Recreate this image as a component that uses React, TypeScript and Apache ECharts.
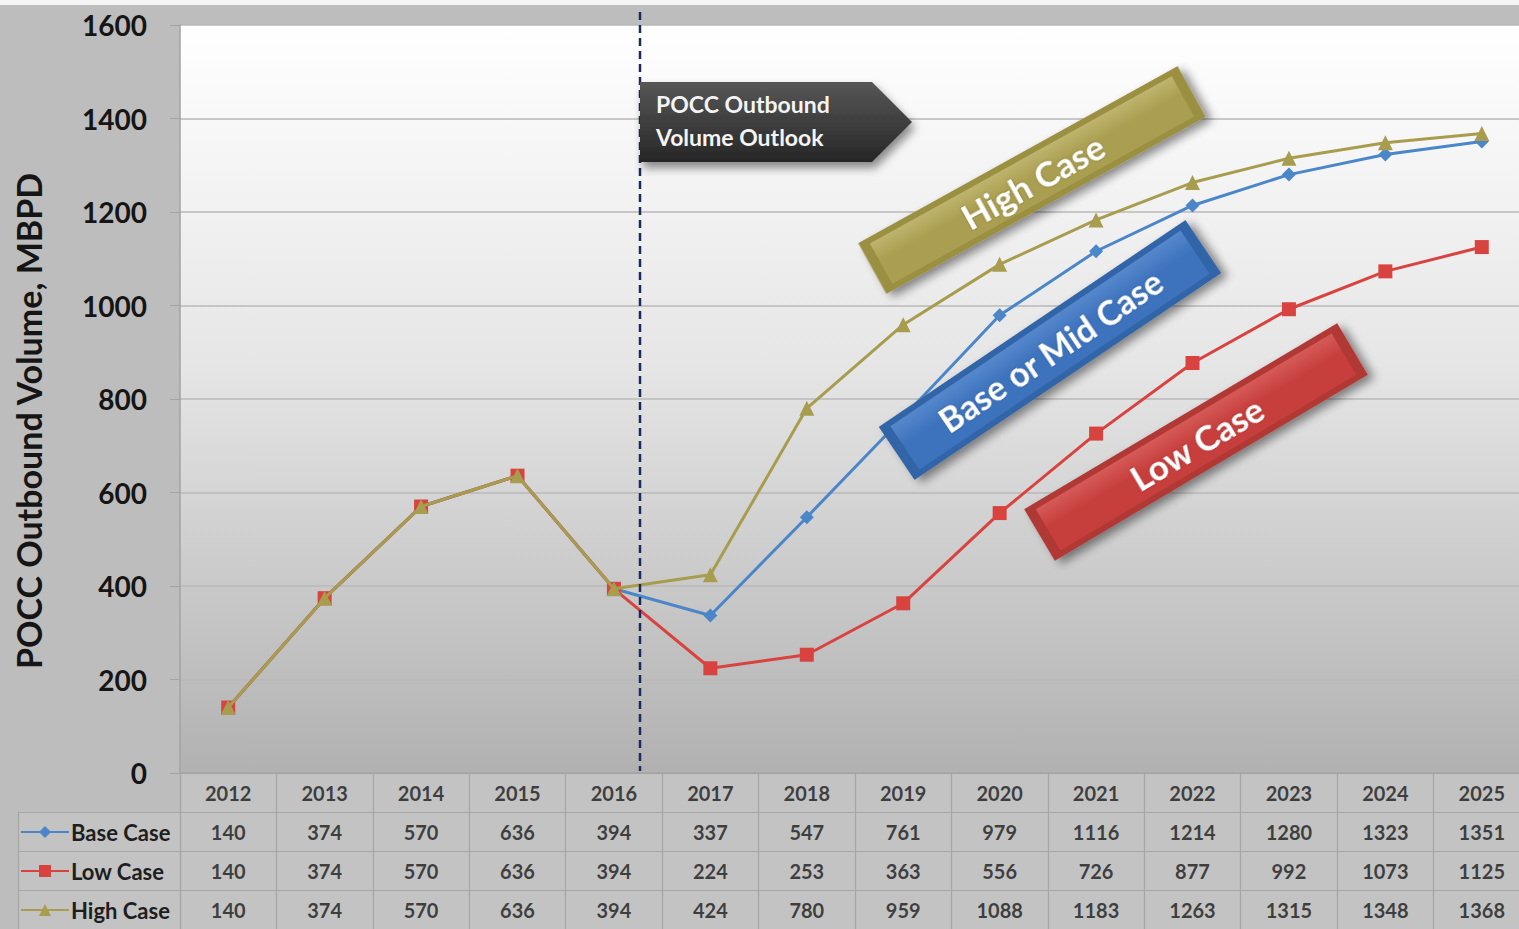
import React, { useEffect, useRef } from "react";
import * as echarts from "echarts";

const years = ["2012", "2013", "2014", "2015", "2016", "2017", "2018", "2019", "2020", "2021", "2022", "2023", "2024", "2025"];
const baseCase = [140, 374, 570, 636, 394, 337, 547, 761, 979, 1116, 1214, 1280, 1323, 1351];
const lowCase = [140, 374, 570, 636, 394, 224, 253, 363, 556, 726, 877, 992, 1073, 1125];
const highCase = [140, 374, 570, 636, 394, 424, 780, 959, 1088, 1183, 1263, 1315, 1348, 1368];
const seriesNames = ["Base Case", "Low Case", "High Case"];
const tableRows = ["Year", "Base Case", "Low Case", "High Case"];
const yMin = 0;
const yMax = 1600;
const yInterval = 200;
const yTitle = "POCC Outbound Volume, MBPD";
const outlookLines = ["POCC Outbound", "Volume Outlook"];
const bannerLabels = ["High Case", "Base or Mid Case", "Low Case"];

const FONT = "Lato, 'Open Sans', sans-serif";
const colors = { base: "#4a86c8", low: "#d9433f", high: "#a89c4e" };

function banner(cx: number, cy: number, angleDeg: number, w: number, h: number, edge: string, mid: string, light: string, label: string, fontSize: number) {
  return {
    type: "group",
    x: cx,
    y: cy,
    rotation: (angleDeg * Math.PI) / 180,
    z: 30,
    children: [
      {
        type: "rect",
        z: 30,
        shape: { x: -w / 2, y: -h / 2, width: w, height: h },
        style: {
          fill: edge,
          shadowBlur: 10,
          shadowOffsetX: 4,
          shadowOffsetY: 6,
          shadowColor: "rgba(0,0,0,0.45)",
        },
      },
      {
        type: "rect",
        z: 31,
        shape: { x: -w / 2 + 10, y: -h / 2 + 6, width: w - 20, height: h - 12 },
        style: {
          fill: new echarts.graphic.LinearGradient(0, 0, 0, 1, [
            { offset: 0, color: light },
            { offset: 0.45, color: mid },
            { offset: 1, color: mid },
          ]),
        },
      },
      {
        type: "text",
        z: 32,
        style: {
          text: label,
          x: 0,
          y: 1,
          align: "center",
          verticalAlign: "middle",
          fill: "#ffffff",
          fontSize,
          fontWeight: "bold",
          fontFamily: FONT,
          textShadowColor: "rgba(0,0,0,0.3)",
          textShadowBlur: 2,
        },
      },
    ],
  };
}

function tableSeries(values: (number | string)[], row: number) {
  return {
    type: "scatter",
    xAxisIndex: 1,
    yAxisIndex: 1,
    silent: true,
    symbolSize: 1,
    itemStyle: { color: "rgba(0,0,0,0)" },
    label: {
      show: true,
      position: "inside",
      formatter: (p: any) => String(p.data[2]),
      fontFamily: FONT,
      fontWeight: "bold",
      fontSize: 20,
      color: "#1a1a1a",
    },
    emphasis: { disabled: true },
    data: values.map((v, i) => [i, row, v]),
    z: 5,
  };
}

export default function App() {
  const ref = useRef<HTMLDivElement>(null);
  useEffect(() => {
    if (!ref.current) return;
    const chart = echarts.init(ref.current, undefined, { renderer: "svg" });
    const plotWidth = 1350;
    const option: any = {
      animation: false,
      backgroundColor: "#bdbdbd",
      grid: [
        {
          left: 180,
          width: plotWidth,
          top: 25,
          height: 748,
          outerBoundsMode: "none",
          containLabel: false,
          show: true,
          borderWidth: 0,
          backgroundColor: new echarts.graphic.LinearGradient(0, 0, 0, 1, [
            { offset: 0, color: "#ffffff" },
            { offset: 0.45, color: "#e6e6e6" },
            { offset: 1, color: "#b1b1b1" },
          ]),
        },
        { left: 180, width: plotWidth, top: 773, height: 156, outerBoundsMode: "none", containLabel: false, show: true, borderWidth: 0, backgroundColor: "#c3c3c3" },
        { left: 18, width: 162, top: 812, height: 117, outerBoundsMode: "none", containLabel: false, show: true, borderWidth: 0, backgroundColor: "#c3c3c3" },
      ],
      xAxis: [
        {
          gridIndex: 0,
          type: "category",
          data: years,
          boundaryGap: true,
          axisLabel: { show: false },
          axisTick: { show: false },
          axisLine: { show: true, lineStyle: { color: "#a3a3a3", width: 1.5 } },
        },
        {
          gridIndex: 1,
          type: "category",
          data: years,
          boundaryGap: true,
          axisLabel: { show: false },
          axisTick: { show: false },
          axisLine: { show: false },
          splitLine: { show: true, lineStyle: { color: "#a6a6a6", width: 1.2 } },
        },
        { gridIndex: 2, type: "value", show: false, min: 0, max: 1 },
      ],
      yAxis: [
        {
          gridIndex: 0,
          type: "value",
          min: yMin,
          max: yMax,
          interval: yInterval,
          axisLine: { show: true, lineStyle: { color: "#a3a3a3", width: 1.5 } },
          axisTick: { show: true, length: 10, lineStyle: { color: "#a3a3a3" } },
          axisLabel: {
            margin: 33,
            formatter: (v: number) => String(v),
            fontFamily: FONT,
            fontWeight: "bold",
            fontSize: 28,
            color: "#151515",
          },
          splitLine: { show: true, lineStyle: { color: "#b9b9b9", width: 1.5 } },
        },
        {
          gridIndex: 1,
          type: "category",
          data: tableRows,
          inverse: true,
          boundaryGap: true,
          axisLabel: { show: false },
          axisTick: { show: false },
          axisLine: { show: true, lineStyle: { color: "#a6a6a6", width: 1.2 } },
          splitLine: { show: true, lineStyle: { color: "#a6a6a6", width: 1.2 } },
        },
        {
          gridIndex: 2,
          type: "category",
          data: seriesNames,
          inverse: true,
          boundaryGap: true,
          axisLabel: { show: false },
          axisTick: { show: false },
          axisLine: { show: true, lineStyle: { color: "#a6a6a6", width: 1.2 } },
          splitLine: { show: true, lineStyle: { color: "#a6a6a6", width: 1.2 } },
        },
      ],
      legend: {
        data: seriesNames,
        orient: "vertical",
        left: 20,
        top: 820,
        padding: 0,
        itemWidth: 48,
        itemHeight: 15,
        itemGap: 15,
        selectedMode: false,
        textStyle: { fontFamily: FONT, fontWeight: "bold", fontSize: 22, color: "#1e1e1e", lineHeight: 24, padding: [0, 0, 0, -3] },
      },
      series: [
        {
          name: seriesNames[0],
          type: "line",
          data: baseCase,
          symbol: "diamond",
          symbolSize: 14,
          color: colors.base,
          lineStyle: { width: 3, color: colors.base },
          itemStyle: { color: colors.base },
          z: 3,
        },
        {
          name: seriesNames[1],
          type: "line",
          data: lowCase,
          symbol: "rect",
          symbolSize: 14,
          color: colors.low,
          lineStyle: { width: 3, color: colors.low },
          itemStyle: { color: colors.low },
          z: 4,
        },
        {
          name: seriesNames[2],
          type: "line",
          data: highCase,
          symbol: "triangle",
          symbolSize: 15,
          color: colors.high,
          lineStyle: { width: 3, color: colors.high },
          itemStyle: { color: colors.high },
          z: 5,
        },
        tableSeries(years, 0),
        tableSeries(baseCase, 1),
        tableSeries(lowCase, 2),
        tableSeries(highCase, 3),
      ],
      graphic: [
        { type: "rect", z: 1, shape: { x: 0, y: 0, width: 1519, height: 5 }, style: { fill: "#f4f4f4" } },
        {
          type: "text",
          x: 28,
          y: 421,
          rotation: Math.PI / 2,
          z: 20,
          style: {
            text: yTitle,
            align: "center",
            verticalAlign: "middle",
            fontFamily: FONT,
            fontWeight: "bold",
            fontSize: 34,
            fill: "#151515",
          },
        },
        {
          type: "line",
          z: 25,
          shape: { x1: 640, y1: 12, x2: 640, y2: 771 },
          style: { stroke: "#1f2a5c", lineWidth: 2.5, lineDash: [8, 5] },
        },
        {
          type: "polygon",
          z: 30,
          shape: { points: [[640, 82], [872, 82], [912, 122], [872, 162], [640, 162]] },
          style: {
            fill: new echarts.graphic.LinearGradient(0, 0, 0, 1, [
              { offset: 0, color: "#575757" },
              { offset: 1, color: "#262626" },
            ]),
            shadowBlur: 10,
            shadowOffsetX: 3,
            shadowOffsetY: 6,
            shadowColor: "rgba(0,0,0,0.45)",
          },
        },
        {
          type: "text",
          z: 31,
          style: {
            text: outlookLines[0],
            x: 656,
            y: 104,
            verticalAlign: "middle",
            fill: "#f4f4f4",
            fontFamily: FONT,
            fontWeight: "bold",
            fontSize: 23,
          },
        },
        {
          type: "text",
          z: 31,
          style: {
            text: outlookLines[1],
            x: 656,
            y: 137,
            verticalAlign: "middle",
            fill: "#f4f4f4",
            fontFamily: FONT,
            fontWeight: "bold",
            fontSize: 23,
          },
        },
        banner(1032, 180, 29, 365, 58, "#9b8f42", "#aa9e50", "#bfb46e", bannerLabels[0], 35),
        banner(1050, 350, 34, 370, 64, "#3265a8", "#3d73bd", "#5587cc", bannerLabels[1], 34),
        banner(1196, 442, 30.7, 364, 60, "#b03836", "#c63f3d", "#d65a57", bannerLabels[2], 35),
      ],
    };
    chart.setOption(option);
    return () => chart.dispose();
  }, []);
  return <div ref={ref} style={{ position: "absolute", left: 0, top: 0, width: 1519, height: 929 }} />;
}
